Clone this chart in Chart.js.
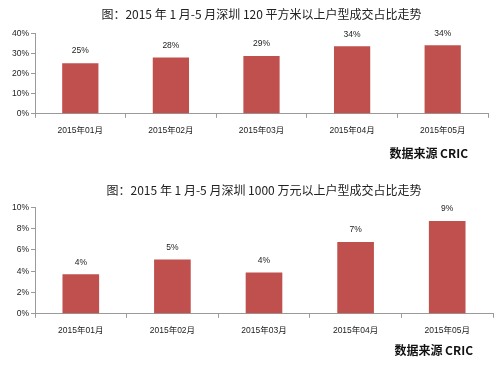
<!DOCTYPE html>
<html><head><meta charset="utf-8">
<script src="https://cdn.jsdelivr.net/npm/chart.js@4.4.1/dist/chart.umd.min.js"></script>
<style>
html,body{margin:0;padding:0;background:#fff;}
#w1{position:absolute;left:0;top:0;width:500px;height:170px;}
#w2{position:absolute;left:0;top:170px;width:500px;height:197px;}
</style></head><body>
<div id="w1"><canvas id="c1"></canvas></div>
<div id="w2"><canvas id="c2"></canvas></div>
<script>
const categories = ["2015年01月","2015年02月","2015年03月","2015年04月","2015年05月"];
const share120 = [25.2, 28.0, 28.7, 33.6, 34.1];
const share1000 = [3.72, 5.1, 3.88, 6.75, 8.73];
const title1 = "图：2015 年 1 月-5 月深圳 120 平方米以上户型成交占比走势";
const title2 = "图：2015 年 1 月-5 月深圳 1000 万元以上户型成交占比走势";
const sourceText = "数据来源 CRIC";
const yTicks1 = {max: 40, step: 10};
const yTicks2 = {max: 10, step: 2};

const CJK = '"Noto Sans CJK SC", "Liberation Sans", sans-serif';
const LAT = '"Liberation Sans", "Noto Sans CJK SC", sans-serif';
const BAR = '#C0504D';
const AXIS = '#9a9a9a';

const valueLabels = {
  id: 'valueLabels',
  afterDatasetsDraw(chart) {
    const ctx = chart.ctx;
    const meta = chart.getDatasetMeta(0);
    ctx.save();
    ctx.font = '8.5px ' + LAT;
    ctx.fillStyle = '#222';
    ctx.textAlign = 'center';
    ctx.textBaseline = 'middle';
    meta.data.forEach((bar, i) => {
      const v = chart.data.datasets[0].data[i];
      ctx.fillText(Math.round(v) + '%', bar.x, bar.y - 12);
    });
    ctx.restore();
  }
};
const sourceLabel = {
  id: 'sourceLabel',
  afterDraw(chart, args, opts) {
    const ctx = chart.ctx;
    ctx.save();
    ctx.font = 'bold 12px ' + CJK;
    ctx.fillStyle = '#111';
    ctx.textAlign = 'right';
    ctx.textBaseline = 'middle';
    ctx.fillText(sourceText, opts.right, opts.y);
    ctx.restore();
  }
};

function makeChart(id, data, title, yt, cfg) {
  return new Chart(document.getElementById(id), {
    type: 'bar',
    data: {labels: categories, datasets: [{data: data, backgroundColor: BAR, borderWidth: 0,
      barPercentage: 0.4, categoryPercentage: 1.0}]},
    options: {
      responsive: true, maintainAspectRatio: false, animation: false,
      layout: {padding: {left: 0, right: cfg.padRight, top: 0, bottom: cfg.padBottom}},
      plugins: {
        legend: {display: false}, tooltip: {enabled: false},
        title: {display: true, text: title, fullSize: false, color: '#222',
          font: {family: CJK, size: 12, weight: 'normal'},
          padding: {top: cfg.titleTop, bottom: cfg.titleBottom}},
        sourceLabel: {right: cfg.srcRight, y: cfg.srcY}
      },
      scales: {
        x: {
          grid: {display: true, drawOnChartArea: false, drawTicks: true, tickLength: 4, color: AXIS, offset: true},
          border: {display: true, color: AXIS},
          ticks: {color: '#222', font: {family: LAT, size: 8.5}, padding: 8, maxRotation: 0, autoSkip: false}
        },
        y: {
          min: 0, max: yt.max,
          afterFit(s) { s.width = 35; },
          grid: {display: true, drawOnChartArea: false, drawTicks: true, tickLength: 4, color: AXIS},
          border: {display: true, color: AXIS},
          ticks: {stepSize: yt.step, color: '#222', font: {family: LAT, size: 8.5}, padding: 2,
            callback: v => v + '%'}
        }
      }
    },
    plugins: [valueLabels, sourceLabel]
  });
}

makeChart('c1', share120, title1, yTicks1,
  {padRight: 12, padBottom: 26, titleTop: 7, titleBottom: 12, srcRight: 468, srcY: 153});
makeChart('c2', share1000, title2, yTicks2,
  {padRight: 7, padBottom: 23, titleTop: 13, titleBottom: 10, srcRight: 473, srcY: 180});
</script>
</body></html>
